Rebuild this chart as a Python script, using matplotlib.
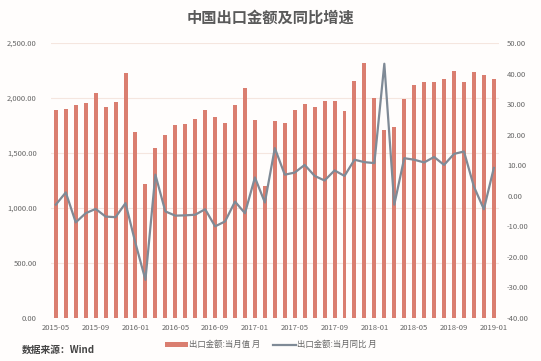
import matplotlib
matplotlib.use("Agg")
import matplotlib.pyplot as plt
import numpy as np

plt.rcParams['font.family'] = ['Noto Sans CJK SC', 'DejaVu Sans']

months = ["2015-05", "2015-06", "2015-07", "2015-08", "2015-09", "2015-10", "2015-11", "2015-12",
          "2016-01", "2016-02", "2016-03", "2016-04", "2016-05", "2016-06", "2016-07", "2016-08",
          "2016-09", "2016-10", "2016-11", "2016-12", "2017-01", "2017-02", "2017-03", "2017-04",
          "2017-05", "2017-06", "2017-07", "2017-08", "2017-09", "2017-10", "2017-11", "2017-12",
          "2018-01", "2018-02", "2018-03", "2018-04", "2018-05", "2018-06", "2018-07", "2018-08",
          "2018-09", "2018-10", "2018-11", "2018-12", "2019-01"]
export_value = [1891, 1897, 1933, 1958, 2042, 1921, 1964, 2230,
                1694, 1215, 1548, 1664, 1755, 1764, 1806, 1891,
                1830, 1776, 1936, 2088, 1797, 1200, 1794, 1776,
                1891, 1945, 1921, 1976, 1973, 1880, 2158, 2315,
                1997, 1709, 1739, 1988, 2115, 2148, 2142, 2170,
                2248, 2142, 2236, 2209, 2173]
export_yoy = [-2.9, 1.1, -8.7, -5.7, -4.3, -6.8, -7.0, -2.4,
              -15.5, -27.5, 6.9, -5.1, -6.5, -6.4, -6.2, -4.4,
              -10.0, -8.4, -1.9, -5.7, 6.0, -2.2, 15.6, 6.9,
              7.6, 10.1, 6.5, 5.0, 8.3, 6.5, 11.8, 11.0,
              10.7, 43.2, -2.9, 12.3, 11.8, 10.9, 12.7, 10.1,
              13.7, 14.5, 3.0, -4.4, 9.1]
tick_labels = months[::4]

bar_color = '#DA7E70'
line_color = '#7F8A96'
text_color = '#666666'

fig = plt.figure(figsize=(5.41, 3.61), dpi=100)
fig.patch.set_facecolor('#FFFDFC')
ax = fig.add_axes([0.094, 0.119, 0.828, 0.762])
ax.set_facecolor('#FFFDFC')
x = np.arange(len(months))
bars = ax.bar(x, export_value, width=0.4, color=bar_color, zorder=2, label='出口金额:当月值 月')
ax.set_ylim(0, 2500)
ax.set_yticks(np.arange(0, 2501, 500))
ax.set_yticklabels([f"{v:,.2f}" for v in np.arange(0, 2501, 500)])
ax.set_xlim(-0.5, len(months) - 0.5)
ax.set_xticks(x[::4])
ax.set_xticklabels(tick_labels)
ax.grid(axis='y', color='#F5E6DF', linewidth=0.8, zorder=0)
for s in ax.spines.values():
    s.set_visible(False)
ax.tick_params(axis='both', length=0, labelsize=5.5, colors=text_color)
ax.tick_params(axis='y', pad=10)
ax.tick_params(axis='x', pad=4)

ax2 = ax.twinx()
line, = ax2.plot(x, export_yoy, color=line_color, linewidth=1.6, zorder=3, label='出口金额:当月同比 月')
ax2.set_ylim(-40, 50)
ax2.set_yticks(np.arange(-40, 51, 10))
ax2.set_yticklabels([f"{v:.2f}" for v in np.arange(-40, 51, 10)])
for s in ax2.spines.values():
    s.set_visible(False)
ax2.tick_params(axis='y', length=0, labelsize=5.5, colors=text_color, pad=6)

fig.text(0.50, 0.952, '中国出口金额及同比增速', ha='center', va='center',
         fontsize=11, fontweight='bold', color='#5a5a5a')
fig.text(0.04, 0.03, '数据来源：Wind', ha='left', va='center', fontsize=7,
         fontweight='bold', color='#444444')
fig.legend(handles=[bars, line], loc='center', bbox_to_anchor=(0.50, 0.045), ncol=2,
           frameon=False, fontsize=6, labelcolor=text_color, handlelength=2.8,
           handletextpad=0.1, columnspacing=1.5, handleheight=0.5)

fig.savefig('out.png', dpi=100, facecolor=fig.get_facecolor())
